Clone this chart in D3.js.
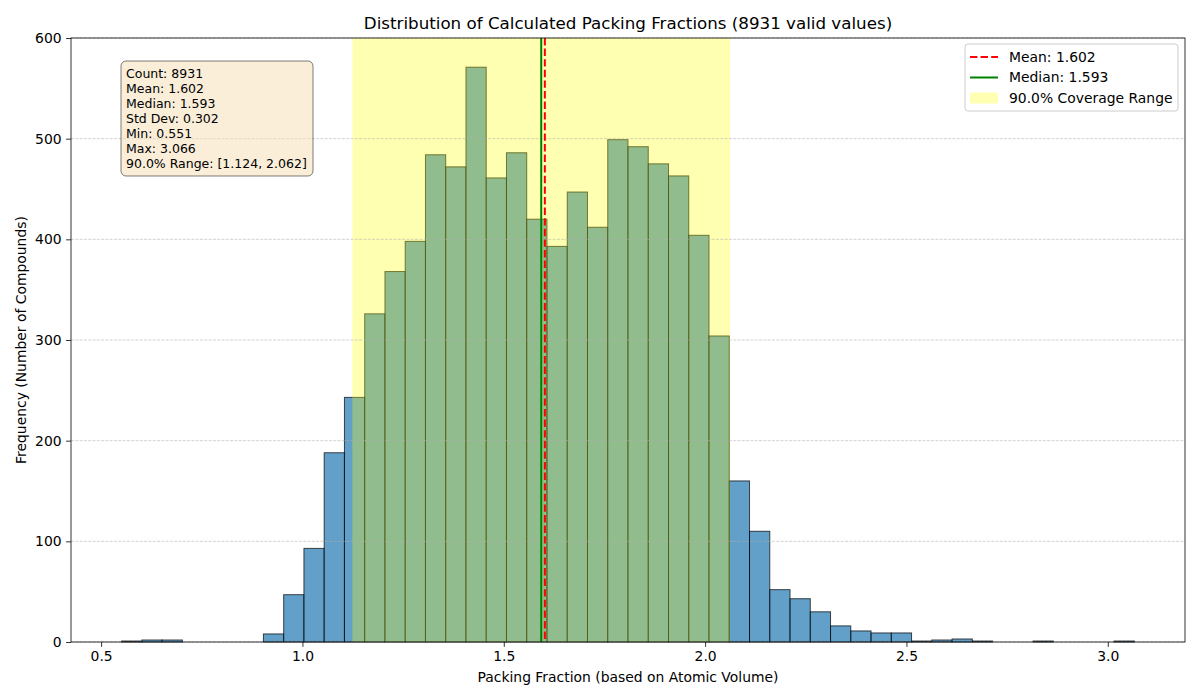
<!DOCTYPE html>
<html>
<head>
<meta charset="utf-8">
<script src="https://cdn.jsdelivr.net/npm/d3@7/dist/d3.min.js"></script>
<style>
  body { margin: 0; background: #fff; }
  svg { font-family: "DejaVu Sans", sans-serif; }
</style>
</head>
<body>
<svg id="chart" width="1200" height="700"></svg>
<script>
// histogram counts, 50 equal bins between min and max
var binCounts = [1, 2, 2, 0, 0, 0, 0, 8, 47, 93,
                 188, 243, 326, 368, 398, 484, 472, 571, 461, 486,
                 420, 393, 447, 412, 499, 492, 475, 463, 404, 304,
                 160, 110, 52, 43, 30, 16, 11, 9, 9, 1,
                 2, 3, 1, 0, 0, 1, 0, 0, 0, 1];
var statLabels = ['Count', 'Mean', 'Median', 'Std Dev', 'Min', 'Max'];
var statValues = ['8931', '1.602', '1.593', '0.302', '0.551', '3.066'];
var minVal = 0.551, maxVal = 3.066;
var meanVal = 1.602, medianVal = 1.593;
var coverage = [1.124, 2.062];
var xTicks = [0.5, 1.0, 1.5, 2.0, 2.5, 3.0];
var yTicks = [0, 100, 200, 300, 400, 500, 600];

var margin = {top: 38, right: 15, bottom: 58, left: 71},
	width = 1200 - margin.left - margin.right,
	height = 700 - margin.top - margin.bottom;

var svg = d3.select('#chart');
var g = svg.append('g').attr('transform', 'translate(' + margin.left + ',' + margin.top + ')');

var pad = (maxVal - minVal) * 0.05;
var x = d3.scaleLinear().domain([minVal - pad, maxVal + pad]).range([0, width]);
var y = d3.scaleLinear().domain([0, 600]).range([height, 0]);

var binW = (maxVal - minVal) / binCounts.length;
var bins = binCounts.map(function(c, i) {
	return {x0: minVal + i * binW, x1: minVal + (i + 1) * binW, count: c};
});

// bars
g.selectAll('.bar').data(bins).enter().append('rect')
	.attr('class', 'bar')
	.attr('x', function(d) { return x(d.x0); })
	.attr('width', function(d) { return x(d.x1) - x(d.x0); })
	.attr('y', function(d) { return y(d.count); })
	.attr('height', function(d) { return y(0) - y(d.count); })
	.attr('fill', '#1f77b4')
	.attr('fill-opacity', 0.7)
	.attr('stroke', '#000')
	.attr('stroke-opacity', 0.7)
	.attr('stroke-width', 1);

// coverage span drawn over the bars
g.append('rect')
	.attr('x', x(coverage[0]))
	.attr('width', x(coverage[1]) - x(coverage[0]))
	.attr('y', 0)
	.attr('height', height)
	.attr('fill', '#ffff00')
	.attr('fill-opacity', 0.3);

// grid
g.selectAll('.grid').data(yTicks).enter().append('line')
	.attr('class', 'grid')
	.attr('x1', 0).attr('x2', width)
	.attr('y1', function(d) { return y(d); })
	.attr('y2', function(d) { return y(d); })
	.attr('stroke', '#b0b0b0')
	.attr('stroke-opacity', 0.7)
	.attr('stroke-width', 0.8)
	.attr('stroke-dasharray', '3,1.3');

// mean / median
g.append('line')
	.attr('x1', x(medianVal)).attr('x2', x(medianVal))
	.attr('y1', 0).attr('y2', height)
	.attr('stroke', '#008000').attr('stroke-width', 2);
g.append('line')
	.attr('x1', x(meanVal)).attr('x2', x(meanVal))
	.attr('y1', 0).attr('y2', height)
	.attr('stroke', '#ff0000').attr('stroke-width', 2)
	.attr('stroke-dasharray', '7.4,3.2');

// axes
var xAxis = g.append('g').attr('transform', 'translate(0,' + height + ')')
	.call(d3.axisBottom(x).tickValues(xTicks).tickFormat(d3.format('.1f')).tickSizeOuter(0).tickSize(4.9).tickPadding(4.5));
var yAxis = g.append('g')
	.call(d3.axisLeft(y).tickValues(yTicks).tickSizeOuter(0).tickSize(4.9).tickPadding(4.5));
[xAxis, yAxis].forEach(function(a) {
	a.select('.domain').remove();
	a.selectAll('text').attr('font-size', '13.9px').attr('fill', '#000')
		.attr('font-family', '"DejaVu Sans", sans-serif');
	a.selectAll('line').attr('stroke', '#000').attr('stroke-width', 0.8);
});

// frame
g.append('rect').attr('x', 0).attr('y', 0).attr('width', width).attr('height', height)
	.attr('fill', 'none').attr('stroke', '#000').attr('stroke-width', 0.8);

// title & labels
svg.append('text').attr('x', margin.left + width / 2).attr('y', 29)
	.attr('text-anchor', 'middle').attr('font-size', '16.7px')
	.text('Distribution of Calculated Packing Fractions (8931 valid values)');
svg.append('text').attr('x', margin.left + width / 2).attr('y', 682)
	.attr('text-anchor', 'middle').attr('font-size', '13.9px')
	.text('Packing Fraction (based on Atomic Volume)');
svg.append('text').attr('transform', 'translate(26,' + (margin.top + height / 2) + ') rotate(-90)')
	.attr('text-anchor', 'middle').attr('font-size', '13.9px')
	.text('Frequency (Number of Compounds)');

// stats box
var statLines = statLabels.map(function(l, i) { return l + ': ' + statValues[i]; });
statLines.push('90.0% Range: [' + coverage[0].toFixed(3) + ', ' + coverage[1].toFixed(3) + ']');
var box = g.append('g').attr('transform', 'translate(' + (121 - margin.left) + ',' + (61 - margin.top) + ')');
box.append('rect').attr('width', 192).attr('height', 115).attr('rx', 5)
	.attr('fill', '#f5deb3').attr('fill-opacity', 0.5)
	.attr('stroke', '#000').attr('stroke-opacity', 0.5).attr('stroke-width', 1);
box.selectAll('text').data(statLines).enter().append('text')
	.attr('x', 5).attr('y', function(d, i) { return 17 + i * 15; })
	.attr('font-size', '12.5px')
	.text(function(d) { return d; });

// legend
var legendItems = [
	{label: 'Mean: ' + meanVal.toFixed(3), type: 'dash', color: '#ff0000'},
	{label: 'Median: ' + medianVal.toFixed(3), type: 'line', color: '#008000'},
	{label: '90.0% Coverage Range', type: 'patch', color: '#ffff00'}
];
var lg = g.append('g').attr('transform', 'translate(' + (965 - margin.left) + ',' + (44 - margin.top) + ')');
lg.append('rect').attr('width', 213).attr('height', 67).attr('rx', 3)
	.attr('fill', '#fff').attr('fill-opacity', 0.8)
	.attr('stroke', '#ccc').attr('stroke-width', 1);
var li = lg.selectAll('.legend').data(legendItems).enter().append('g')
	.attr('class', 'legend')
	.attr('transform', function(d, i) { return 'translate(5,' + (13 + i * 20.5) + ')'; });
li.each(function(d) {
	var s = d3.select(this);
	if (d.type === 'patch') {
		s.append('rect').attr('x', 0).attr('y', -5.5).attr('width', 28).attr('height', 11)
			.attr('fill', d.color).attr('fill-opacity', 0.3);
	} else {
		s.append('line').attr('x1', 0).attr('x2', 28).attr('y1', 0).attr('y2', 0)
			.attr('stroke', d.color).attr('stroke-width', 2)
			.attr('stroke-dasharray', d.type === 'dash' ? '7.4,3.2' : null);
	}
});
li.append('text').attr('x', 39).attr('dy', '.35em').attr('font-size', '13.9px')
	.text(function(d) { return d.label; });
</script>
</body>
</html>
